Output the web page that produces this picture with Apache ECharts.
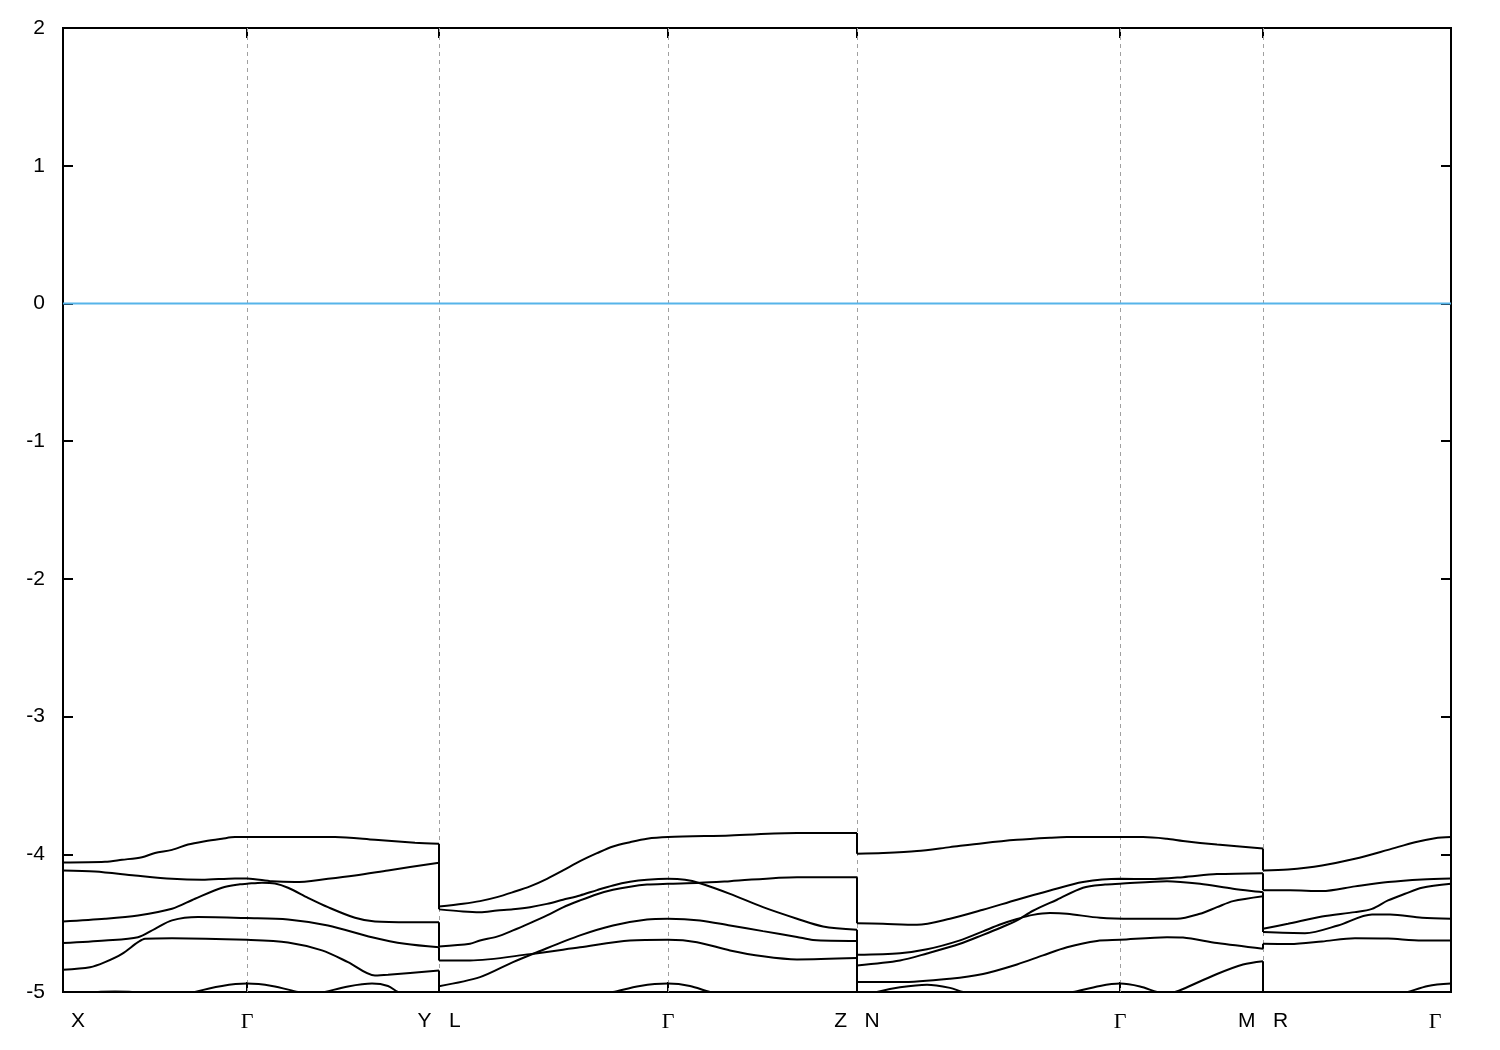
<!DOCTYPE html>
<html><head><meta charset="utf-8">
<script src="https://cdn.jsdelivr.net/npm/echarts@6/dist/echarts.min.js"></script>
<style>html,body{margin:0;padding:0;background:#fff}#c{width:1500px;height:1050px}</style>
</head><body><div id="c"></div>
<script>
// High-symmetry k positions and labels
const kTicks = [0, 1.84, 3.76, 6.05, 7.94, 10.57, 12.00, 13.88];
const kLabels = ['X', 'Γ', 'Y   L', 'Γ', 'Z   N', 'Γ', 'M   R', 'Γ'];
const gridLinesK = [1.84, 3.76, 6.05, 7.94, 10.57, 12.00];
const fermiLevel = 0;
const energyMin = -5, energyMax = 2, energyStep = 1;

// Bands: each band = list of path segments, each segment = [k, E] points
const band1 = [
  [[0,-4.06],[0.42,-4.055],[0.59,-4.04],[0.79,-4.021],[0.92,-3.99],[1.09,-3.968],[1.25,-3.929],[1.42,-3.905],[1.59,-3.887],[1.72,-3.875],[1.84,-3.875],[2.72,-3.875],[3.12,-3.895],[3.52,-3.916],[3.76,-3.924]],
  [[3.76,-4.379],[4.00,-4.359],[4.17,-4.34],[4.34,-4.311],[4.50,-4.275],[4.67,-4.233],[4.84,-4.178],[5.00,-4.117],[5.17,-4.05],[5.34,-3.992],[5.50,-3.943],[5.67,-3.912],[5.84,-3.887],[6.05,-3.875],[6.67,-3.863],[7.34,-3.846],[7.94,-3.846]],
  [[7.94,-3.996],[8.20,-3.991],[8.54,-3.977],[8.87,-3.948],[9.20,-3.919],[9.54,-3.895],[9.87,-3.88],[10.04,-3.875],[10.57,-3.875],[10.80,-3.875],[11.04,-3.887],[11.20,-3.903],[11.54,-3.929],[12.00,-3.958]],
  [[12.00,-4.117],[12.25,-4.11],[12.59,-4.081],[12.92,-4.033],[13.25,-3.968],[13.52,-3.912],[13.72,-3.883],[13.88,-3.875]]
];
const band2 = [
  [[0,-4.117],[0.32,-4.125],[0.72,-4.154],[1.09,-4.178],[1.39,-4.185],[1.72,-4.175],[1.84,-4.175],[2.09,-4.196],[2.32,-4.202],[2.65,-4.178],[2.92,-4.154],[3.25,-4.117],[3.76,-4.061]],
  [[3.76,-4.40],[4.00,-4.415],[4.17,-4.42],[4.34,-4.408],[4.50,-4.399],[4.67,-4.384],[4.84,-4.36],[5.00,-4.33],[5.17,-4.299],[5.34,-4.26],[5.50,-4.226],[5.67,-4.20],[5.84,-4.185],[6.05,-4.178],[6.22,-4.185],[6.37,-4.21],[6.67,-4.287],[7.00,-4.384],[7.34,-4.468],[7.60,-4.524],[7.94,-4.548]],
  [[7.94,-4.73],[8.37,-4.718],[8.64,-4.69],[8.97,-4.625],[9.20,-4.56],[9.37,-4.51],[9.54,-4.47],[9.70,-4.44],[9.87,-4.427],[10.04,-4.432],[10.37,-4.461],[10.70,-4.468],[11.14,-4.468],[11.37,-4.432],[11.54,-4.384],[11.70,-4.34],[12.00,-4.304]],
  [[12.00,-4.565],[12.42,-4.573],[12.75,-4.517],[13.09,-4.437],[13.27,-4.437],[13.59,-4.461],[13.88,-4.468]]
];
const band3 = [
  [[0,-4.488],[0.42,-4.468],[0.75,-4.444],[1.09,-4.396],[1.32,-4.323],[1.59,-4.243],[1.77,-4.218],[1.84,-4.214],[1.99,-4.206],[2.12,-4.212],[2.25,-4.243],[2.45,-4.316],[2.65,-4.384],[2.92,-4.461],[3.12,-4.488],[3.47,-4.493],[3.76,-4.493]],
  [[3.76,-4.670],[4.07,-4.65],[4.17,-4.626],[4.34,-4.598],[4.50,-4.553],[4.67,-4.50],[4.84,-4.444],[5.00,-4.385],[5.17,-4.335],[5.34,-4.29],[5.50,-4.258],[5.67,-4.235],[5.84,-4.22],[6.05,-4.214],[6.37,-4.207],[6.67,-4.195],[7.34,-4.166],[7.94,-4.166]],
  [[7.94,-4.5],[8.20,-4.505],[8.54,-4.512],[8.87,-4.468],[9.20,-4.403],[9.54,-4.33],[9.87,-4.263],[10.20,-4.202],[10.57,-4.178],[10.87,-4.18],[11.20,-4.166],[11.54,-4.144],[12.00,-4.137]],
  [[12.00,-4.262],[12.27,-4.262],[12.59,-4.267],[12.92,-4.233],[13.25,-4.202],[13.59,-4.183],[13.88,-4.175]]
];
const band4 = [
  [[0,-4.645],[0.42,-4.626],[0.75,-4.602],[0.92,-4.541],[1.09,-4.48],[1.35,-4.456],[1.84,-4.463],[2.25,-4.473],[2.65,-4.517],[3.09,-4.602],[3.42,-4.65],[3.76,-4.675]],
  [[3.76,-4.771],[4.07,-4.771],[4.67,-4.725],[5.17,-4.675],[5.67,-4.626],[6.05,-4.621],[6.34,-4.638],[6.67,-4.698],[7.00,-4.741],[7.34,-4.764],[7.94,-4.754]],
  [[7.94,-5.05],[8.14,-5.0],[8.37,-4.966],[8.64,-4.947],[8.87,-4.97],[9.00,-5.0],[9.37,-5.06],[9.77,-5.05],[10.10,-5.0],[10.37,-4.956],[10.57,-4.939],[10.77,-4.96],[10.94,-5.0],[11.04,-5.015],[11.12,-5.0],[11.20,-4.978],[11.54,-4.869],[11.80,-4.8],[12.00,-4.776]],
  [[12.00,-5.1],[13.17,-5.06],[13.45,-5.0],[13.65,-4.956],[13.88,-4.939]]
];
const band5 = [
  [[0,-4.838],[0.27,-4.82],[0.42,-4.783],[0.59,-4.723],[0.75,-4.638],[0.82,-4.613],[1.09,-4.609],[1.84,-4.621],[2.25,-4.64],[2.59,-4.698],[2.85,-4.783],[3.12,-4.88],[3.25,-4.875],[3.76,-4.843]],
  [[3.76,-5.1],[4.97,-5.08],[5.50,-5.0],[5.77,-4.956],[6.05,-4.939],[6.27,-4.956],[6.47,-5.0],[6.97,-5.08],[7.94,-5.1]],
  [[7.94,-4.928],[8.37,-4.928],[8.87,-4.903],[9.20,-4.869],[9.54,-4.8],[9.80,-4.734],[10.04,-4.675],[10.34,-4.629],[10.57,-4.621],[11.04,-4.602],[11.20,-4.605],[11.54,-4.645],[12.00,-4.686]],
  [[12.00,-4.65],[12.27,-4.652],[12.59,-4.633],[12.92,-4.609],[13.25,-4.612],[13.59,-4.626],[13.88,-4.626]]
];
const band6 = [
  [[0,-5.05],[0.35,-5.0],[0.52,-4.997],[0.69,-5.0],[0.97,-5.05],[1.22,-5.03],[1.32,-5.0],[1.59,-4.956],[1.84,-4.939],[2.09,-4.956],[2.35,-5.0],[2.49,-5.02],[2.62,-5.0],[2.85,-4.96],[3.09,-4.939],[3.25,-4.956],[3.35,-5.0],[3.57,-5.06],[3.76,-5.1]],
  [[3.76,-4.958],[4.17,-4.892],[4.50,-4.783],[4.74,-4.711],[5.17,-4.589],[5.50,-4.517],[5.84,-4.473],[6.05,-4.468],[6.37,-4.48],[6.67,-4.517],[7.00,-4.558],[7.34,-4.60],[7.50,-4.622],[7.94,-4.629]],
  [[7.94,-4.807],[8.37,-4.771],[8.64,-4.72],[8.97,-4.65],[9.20,-4.585],[9.37,-4.535],[9.54,-4.48],[9.70,-4.41],[9.94,-4.33],[10.20,-4.243],[10.42,-4.22],[10.57,-4.214],[11.04,-4.195],[11.37,-4.214],[11.70,-4.25],[12.00,-4.275]],
  [[12.00,-4.541],[12.25,-4.505],[12.59,-4.452],[12.92,-4.42],[13.09,-4.396],[13.25,-4.335],[13.42,-4.287],[13.59,-4.243],[13.88,-4.214]]
];
const bands = [band1, band2, band3, band4, band5, band6];

// ---- build series ----
const bandStyle = {color: '#000', width: 2};
const series = [];
series.push({
  type: 'line', z: 2, silent: true, symbol: 'none',
  data: [[kTicks[0], fermiLevel], [kTicks[kTicks.length - 1], fermiLevel]],
  lineStyle: {color: '#56b4e9', width: 2},
  markLine: {
    z: 1, silent: true, symbol: ['none', 'none'], label: {show: false},
    lineStyle: {color: '#a0a0a0', width: 1, type: [4, 4]},
    data: gridLinesK.map(k => ({xAxis: k}))
  }
});
const jumpData = [];
bands.forEach(band => {
  const data = [];
  band.forEach((seg, si) => {
    if (si > 0) {
      data.push([seg[0][0], null]);
      const prev = band[si - 1];
      jumpData.push(prev[prev.length - 1], seg[0], [seg[0][0], null]);
    }
    seg.forEach(p => data.push(p));
  });
  series.push({
    type: 'line', z: 6, silent: true, symbol: 'none', clip: true,
    smooth: 0.3, connectNulls: false,
    data: data, lineStyle: bandStyle
  });
});
series.push({
  type: 'line', z: 6, silent: true, symbol: 'none', clip: true,
  smooth: false, connectNulls: false, data: jumpData, lineStyle: bandStyle
});

const labelFont = {fontFamily: 'Liberation Sans', fontSize: 21, color: '#000'};
function xLabel(val) {
  const i = kTicks.findIndex(t => Math.abs(t - val) < 1e-6);
  if (i < 0) return '';
  const lab = kLabels[i];
  if (i === 0) return '{first|' + lab + '}';
  if (i === kTicks.length - 1) return lab === 'Γ' ? '{lastG|Γ}' : '{last|' + lab + '}';
  return lab === 'Γ' ? '{g|Γ}' : lab;
}

const option = {
  animation: false,
  backgroundColor: '#fff',
  grid: {left: 63, right: 49, top: 28, bottom: 58, show: true, borderColor: '#000', borderWidth: 2, outerBoundsMode: 'none'},
  xAxis: [{
    type: 'value', min: kTicks[0], max: kTicks[kTicks.length - 1], position: 'bottom',
    axisLine: {show: false, onZero: false}, splitLine: {show: false},
    axisTick: {show: true, inside: true, length: 10, customValues: kTicks, lineStyle: {color: '#000', width: 2}},
    axisLabel: Object.assign({}, labelFont, {
      margin: 19, customValues: kTicks, formatter: xLabel,
      rich: {
        g: {fontFamily: 'Liberation Serif', fontSize: 22, color: '#000'},
        first: {fontFamily: 'Liberation Sans', fontSize: 21, color: '#000', padding: [0, 0, 0, 30]},
        lastG: {fontFamily: 'Liberation Serif', fontSize: 22, color: '#000', padding: [0, 32, 0, 0]},
        last: {fontFamily: 'Liberation Sans', fontSize: 21, color: '#000', padding: [0, 32, 0, 0]}
      }
    })
  }, {
    type: 'value', min: kTicks[0], max: kTicks[kTicks.length - 1], position: 'top',
    axisLine: {show: false, onZero: false}, splitLine: {show: false},
    axisTick: {show: true, inside: true, length: 10, customValues: kTicks, lineStyle: {color: '#000', width: 2}},
    axisLabel: {show: false}
  }],
  yAxis: [{
    type: 'value', min: energyMin, max: energyMax, interval: energyStep, position: 'left',
    axisLine: {show: false, onZero: false}, splitLine: {show: false},
    axisTick: {show: true, inside: true, length: 10, lineStyle: {color: '#000', width: 2}},
    axisLabel: Object.assign({}, labelFont, {margin: 18})
  }, {
    type: 'value', min: energyMin, max: energyMax, interval: energyStep, position: 'right',
    axisLine: {show: false, onZero: false}, splitLine: {show: false},
    axisTick: {show: true, inside: true, length: 10, lineStyle: {color: '#000', width: 2}},
    axisLabel: {show: false}
  }],
  series: series
};
const chart = echarts.init(document.getElementById('c'), null, {renderer: 'canvas'});
chart.setOption(option);
</script></body></html>
